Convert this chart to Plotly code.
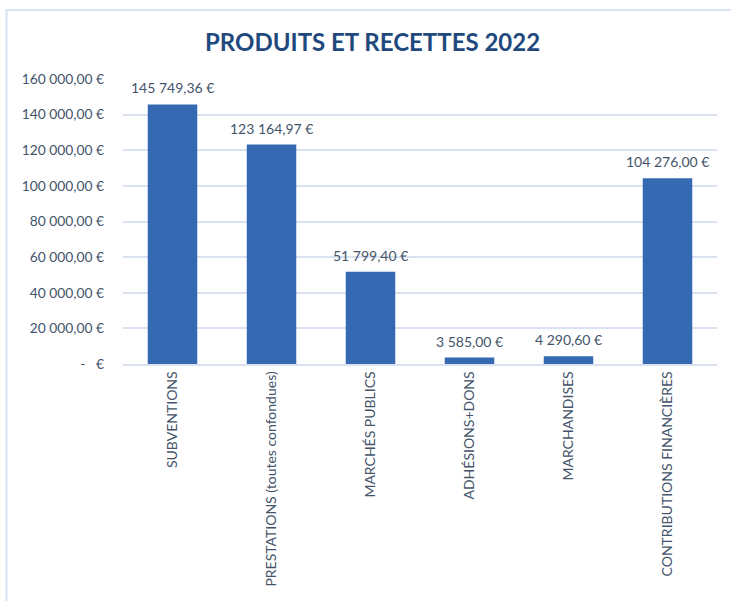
import plotly.graph_objects as go

categories = ["SUBVENTIONS", "PRESTATIONS (toutes confondues)", "MARCHÉS PUBLICS",
              "ADHÉSIONS+DONS", "MARCHANDISES", "CONTRIBUTIONS FINANCIÈRES"]
values = [145749.36, 123164.97, 51799.40, 3585.00, 4290.60, 104276.00]
value_labels = ["145 749,36 €", "123 164,97 €", "51 799,40 €", "3 585,00 €", "4 290,60 €", "104 276,00 €"]
tick_values = [0, 20000, 40000, 60000, 80000, 100000, 120000, 140000, 160000]
tick_labels = ["-   €", "20 000,00 €", "40 000,00 €", "60 000,00 €", "80 000,00 €",
               "100 000,00 €", "120 000,00 €", "140 000,00 €", "160 000,00 €"]

FONT = "Lato, Open Sans, sans-serif"
TXT = "#44546A"

fig = go.Figure()
fig.add_trace(go.Bar(
    x=categories, y=values,
    marker=dict(color="#3569B2", line=dict(width=0)),
    width=0.5,
    hoverinfo="skip",
))

annotations = [
    dict(x=c, y=v, text=t, xref="x", yref="y", showarrow=False,
         yanchor="bottom", yshift=6, font=dict(family=FONT, size=14, color=TXT))
    for c, v, t in zip(categories, values, value_labels)
]
annotations.append(dict(
    text="<b>PRODUITS ET RECETTES 2022</b>", xref="paper", yref="paper",
    x=(372 - 123) / 594, y=1 + (79 - 41) / 285, showarrow=False,
    xanchor="center", yanchor="middle",
    font=dict(family=FONT, size=24, color="#1F497D")))

fig.update_layout(
    width=731, height=601,
    margin=dict(l=123, r=14, t=79, b=237, autoexpand=False),
    paper_bgcolor="white", plot_bgcolor="white",
    showlegend=False,
    annotations=annotations,
    bargap=0.5,
    xaxis=dict(
        tickangle=-90, tickfont=dict(family=FONT, size=14, color=TXT),
        showgrid=False, showline=True, linecolor="#D9E2F0", linewidth=1.5,
        ticks="", ticklen=0, automargin=False,
    ),
    yaxis=dict(
        range=[0, 160000], tickvals=tick_values, ticktext=tick_labels,
        tickfont=dict(family=FONT, size=13.8, color=TXT),
        showgrid=True, gridcolor="#D9E2F0", gridwidth=1.5,
        zeroline=False, ticks="", ticklabelstandoff=18, automargin=False,
    ),
    shapes=[dict(type="rect", xref="paper", yref="paper",
                 x0=(6.5 - 123) / 594, x1=(740 - 123) / 594,
                 y0=(364 - 610) / 285, y1=1 + (79 - 10) / 285,
                 line=dict(color="#D6E4F5", width=2), layer="below")],
)

fig.write_html("out.html", config={"displayModeBar": False},
               post_script="document.body.style.margin='0';")
